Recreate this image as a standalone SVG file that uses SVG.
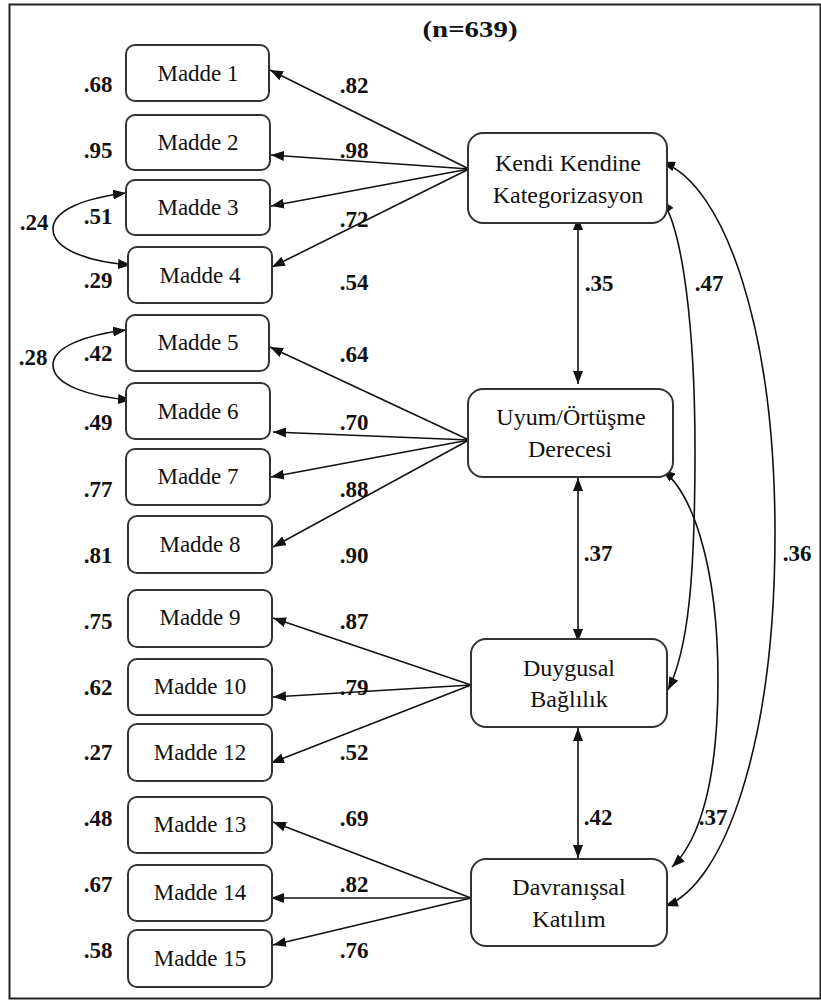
<svg xmlns="http://www.w3.org/2000/svg" width="821" height="1001" viewBox="0 0 821 1001">
<style>
  .box { fill: #fff; stroke: #333; stroke-width: 2; }
  .lbl { font-family: "Liberation Serif", "Times New Roman", serif; font-size: 23px; fill: #111; text-anchor: middle; }
  .lat { font-family: "Liberation Serif", "Times New Roman", serif; font-size: 24px; fill: #111; text-anchor: middle; }
  .num { font-family: "Liberation Serif", "Times New Roman", serif; font-size: 23px; font-weight: bold; fill: #111; text-anchor: middle; }
  .ln { fill: none; stroke: #111; stroke-width: 1.6; }
  .one { marker-end: url(#ah); }
  .two { marker-start: url(#ah); marker-end: url(#ah); }
</style>
<defs>
  <marker id="ah" viewBox="0 0 13 10" refX="13" refY="5" markerWidth="13" markerHeight="10" markerUnits="userSpaceOnUse" orient="auto-start-reverse">
    <path d="M0,0 L13,5 L0,10 z" fill="#111"/>
  </marker>
</defs>
<rect x="0" y="0" width="821" height="1001" fill="#fff"/>
<rect x="9.5" y="4.5" width="811" height="994" fill="none" stroke="#222" stroke-width="2"/>
<text class="num" x="470" y="37" textLength="95" lengthAdjust="spacingAndGlyphs">(n=639)</text>

<g id="connectors">
  <line class="ln one" x1="469" y1="169" x2="270" y2="70"/>
  <line class="ln one" x1="469" y1="169" x2="271" y2="155"/>
  <line class="ln one" x1="469" y1="169" x2="271" y2="206"/>
  <line class="ln one" x1="469" y1="169" x2="272" y2="267"/>
  <line class="ln one" x1="469" y1="440" x2="270" y2="347"/>
  <line class="ln one" x1="469" y1="440" x2="273" y2="432"/>
  <line class="ln one" x1="469" y1="440" x2="271" y2="477"/>
  <line class="ln one" x1="469" y1="440" x2="273" y2="547"/>
  <line class="ln one" x1="471" y1="685" x2="273" y2="618"/>
  <line class="ln one" x1="471" y1="685" x2="273" y2="697"/>
  <line class="ln one" x1="471" y1="685" x2="271" y2="763"/>
  <line class="ln one" x1="471" y1="898" x2="273" y2="822"/>
  <line class="ln one" x1="471" y1="898" x2="271" y2="898"/>
  <line class="ln one" x1="471" y1="898" x2="273" y2="945"/>
  <path class="ln two" d="M126,193 C85,198 53,210 53,229 C53,250 90,262 131,265"/>
  <path class="ln two" d="M126,330 C85,335 53,347 53,365 C53,385 90,397 131,400"/>
  <line class="ln two" x1="578" y1="217" x2="578" y2="384"/>
  <line class="ln two" x1="578" y1="478" x2="578" y2="642"/>
  <line class="ln two" x1="578" y1="728" x2="578" y2="858"/>
  <path class="ln two" d="M662,162 C725,185 775,330 775,534 C775,740 725,885 665,906"/>
  <path class="ln two" d="M662,200 C683,230 695,330 695,450 C695,580 688,650 668,690"/>
  <path class="ln two" d="M662,470 C690,490 718,560 718,680 C718,780 700,840 672,867"/>
</g>

<g id="madde1"><rect class="box" x="126" y="45" width="143" height="56" rx="9"/><text class="lbl" x="198" y="81">Madde 1</text></g>
<g id="madde2"><rect class="box" x="126" y="115" width="144" height="55" rx="9"/><text class="lbl" x="198" y="150">Madde 2</text></g>
<g id="madde3"><rect class="box" x="126" y="180" width="144" height="55" rx="9"/><text class="lbl" x="198" y="215">Madde 3</text></g>
<g id="madde4"><rect class="box" x="128" y="247" width="144" height="56" rx="9"/><text class="lbl" x="200" y="283">Madde 4</text></g>
<g id="madde5"><rect class="box" x="126" y="315" width="143" height="56" rx="9"/><text class="lbl" x="198" y="350">Madde 5</text></g>
<g id="madde6"><rect class="box" x="126" y="383" width="144" height="56" rx="9"/><text class="lbl" x="198" y="419">Madde 6</text></g>
<g id="madde7"><rect class="box" x="126" y="449" width="144" height="56" rx="9"/><text class="lbl" x="198" y="484">Madde 7</text></g>
<g id="madde8"><rect class="box" x="128" y="516" width="144" height="57" rx="9"/><text class="lbl" x="200" y="552">Madde 8</text></g>
<g id="madde9"><rect class="box" x="128" y="590" width="144" height="57" rx="9"/><text class="lbl" x="200" y="625">Madde 9</text></g>
<g id="madde10"><rect class="box" x="128" y="659" width="144" height="56" rx="9"/><text class="lbl" x="200" y="694">Madde 10</text></g>
<g id="madde12"><rect class="box" x="128" y="724" width="144" height="57" rx="9"/><text class="lbl" x="200" y="760">Madde 12</text></g>
<g id="madde13"><rect class="box" x="128" y="797" width="144" height="56" rx="9"/><text class="lbl" x="200" y="832">Madde 13</text></g>
<g id="madde14"><rect class="box" x="128" y="865" width="144" height="56" rx="9"/><text class="lbl" x="200" y="900">Madde 14</text></g>
<g id="madde15"><rect class="box" x="128" y="930" width="144" height="57" rx="9"/><text class="lbl" x="200" y="966">Madde 15</text></g>

<g id="kendi"><rect class="box" x="468" y="133" width="199" height="90" rx="15"/><text class="lat" x="568" y="171">Kendi Kendine</text><text class="lat" x="568" y="203">Kategorizasyon</text></g>
<g id="uyum"><rect class="box" x="468" y="389" width="205" height="88" rx="15"/><text class="lat" x="571" y="425">Uyum/Örtüşme</text><text class="lat" x="570" y="457">Derecesi</text></g>
<g id="duygusal"><rect class="box" x="471" y="639" width="196" height="88" rx="15"/><text class="lat" x="569" y="676">Duygusal</text><text class="lat" x="569" y="707">Bağlılık</text></g>
<g id="davranissal"><rect class="box" x="471" y="859" width="196" height="87" rx="15"/><text class="lat" x="569" y="895">Davranışsal</text><text class="lat" x="569" y="927">Katılım</text></g>

<g id="labels">
  <text class="num" x="98" y="92">.68</text>
  <text class="num" x="98" y="158">.95</text>
  <text class="num" x="98" y="224">.51</text>
  <text class="num" x="98" y="288">.29</text>
  <text class="num" x="98" y="361">.42</text>
  <text class="num" x="98" y="430">.49</text>
  <text class="num" x="98" y="497">.77</text>
  <text class="num" x="98" y="563">.81</text>
  <text class="num" x="98" y="629">.75</text>
  <text class="num" x="98" y="695">.62</text>
  <text class="num" x="98" y="760">.27</text>
  <text class="num" x="98" y="826">.48</text>
  <text class="num" x="98" y="892">.67</text>
  <text class="num" x="98" y="958">.58</text>
  <text class="num" x="34" y="230">.24</text>
  <text class="num" x="33" y="365">.28</text>
  <text class="num" x="354" y="93">.82</text>
  <text class="num" x="354" y="158">.98</text>
  <text class="num" x="354" y="227">.72</text>
  <text class="num" x="354" y="290">.54</text>
  <text class="num" x="354" y="362">.64</text>
  <text class="num" x="354" y="430">.70</text>
  <text class="num" x="354" y="497">.88</text>
  <text class="num" x="354" y="563">.90</text>
  <text class="num" x="354" y="629">.87</text>
  <text class="num" x="354" y="695">.79</text>
  <text class="num" x="354" y="760">.52</text>
  <text class="num" x="354" y="826">.69</text>
  <text class="num" x="354" y="892">.82</text>
  <text class="num" x="354" y="958">.76</text>
  <text class="num" x="599" y="291">.35</text>
  <text class="num" x="598" y="561">.37</text>
  <text class="num" x="598" y="825">.42</text>
  <text class="num" x="709" y="291">.47</text>
  <text class="num" x="713" y="825">.37</text>
  <text class="num" x="797" y="561">.36</text>
</g>
</svg>
